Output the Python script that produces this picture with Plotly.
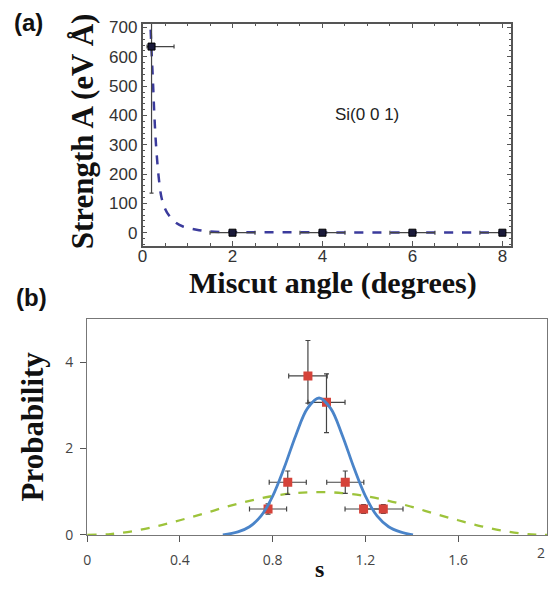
import plotly.graph_objects as go

# ---------- Panel (a) data ----------
a_x = [0.2, 2, 4, 6, 8]
a_y = [635, 0, 0, 0, 0]
a_xerr_plus = [0.5, 0.5, 0.5, 0.5, 0.5]
a_xerr_minus = [0.1, 0.5, 0.5, 0.5, 0.5]
a_yerr_plus = [500, 0, 0, 0, 0]
a_yerr_minus = [500, 0, 0, 0, 0]
fit_a_x = [0.18, 0.2, 0.23, 0.26, 0.30, 0.36, 0.42, 0.5, 0.61, 0.75, 0.90, 1.2, 1.5, 2, 3, 4, 6, 8]
fit_a_y = [693, 620, 521, 410, 299, 188, 121, 82, 54, 33, 21, 10, 4, 2, 1.5, 1, 0.7, 0.5]

# ---------- Panel (b) data ----------
b_x = [0.78, 0.865, 0.952, 1.032, 1.113, 1.192, 1.277]
b_y = [0.6, 1.22, 3.68, 3.07, 1.22, 0.6, 0.6]
b_xerr = [0.08, 0.08, 0.083, 0.08, 0.08, 0.08, 0.085]
b_yerr_plus = [0.12, 0.26, 0.82, 0.66, 0.26, 0.1, 0.1]
b_yerr_minus = [0.12, 0.28, 0.63, 0.70, 0.26, 0.1, 0.1]
blue_x = [0.585, 0.65, 0.7, 0.75, 0.8, 0.85, 0.9, 0.95, 1.0, 1.05, 1.1, 1.15, 1.2, 1.25, 1.3, 1.35, 1.405]
blue_y = [0.0, 0.07, 0.19, 0.44, 0.9, 1.56, 2.31, 2.93, 3.17, 2.93, 2.31, 1.56, 0.9, 0.44, 0.19, 0.07, 0.0]
green_x = [0, 0.1, 0.2, 0.3, 0.4, 0.5, 0.6, 0.7, 0.8, 0.9, 1.0, 1.1, 1.2, 1.3, 1.4, 1.5, 1.6, 1.7, 1.8, 1.9, 2.0]
green_y = [0, 0.02, 0.09, 0.2, 0.34, 0.49, 0.65, 0.79, 0.9, 0.97, 0.99, 0.97, 0.9, 0.79, 0.65, 0.49, 0.34, 0.2, 0.09, 0.02, 0]

a_xticks = [0, 2, 4, 6, 8]
a_yticks = [0, 100, 200, 300, 400, 500, 600, 700]
b_xticks = [0, 0.4, 0.8, 1.2, 1.6]
b_xticklabels = ["0", "0.4", "0.8", "1.2", "1.6"]
b_last_tick = "2"
b_yticks = [0, 2, 4]

# The page body keeps its default 8px margin; the figure fills the rest of the 556x590 window.
OFF = 8
W, H = 556 - 2 * OFF, 590 - 2 * OFF


def px(X):
    return (X - OFF) / W


def py(Y):
    return 1 - (Y - OFF) / H


fig = go.Figure()

# Panel (a)
fig.add_trace(go.Scatter(
    x=fit_a_x, y=fit_a_y, mode="lines", line=dict(color="#3b3b9c", width=2.5, dash="dash", shape="spline"),
    xaxis="x", yaxis="y", showlegend=False, hoverinfo="skip"))
fig.add_trace(go.Scatter(
    x=a_x, y=a_y, mode="markers",
    marker=dict(symbol="square", size=7, color="#1a1a3a", line=dict(color="#000", width=1)),
    error_x=dict(type="data", array=a_xerr_plus, arrayminus=a_xerr_minus, symmetric=False,
                 color="#444", thickness=1.2, width=2),
    error_y=dict(type="data", array=a_yerr_plus, arrayminus=a_yerr_minus, symmetric=False,
                 color="#444", thickness=1.2, width=2),
    xaxis="x", yaxis="y", showlegend=False))

# Panel (b)
fig.add_trace(go.Scatter(
    x=green_x, y=green_y, mode="lines", line=dict(color="#9dc33b", width=2.3, dash="dash", shape="spline"),
    xaxis="x2", yaxis="y2", showlegend=False, hoverinfo="skip"))
fig.add_trace(go.Scatter(
    x=b_x, y=b_y, mode="markers",
    marker=dict(symbol="square", size=9, color="#d5433a"),
    error_x=dict(type="data", array=b_xerr, color="#444", thickness=1.2, width=2.5),
    error_y=dict(type="data", array=b_yerr_plus, arrayminus=b_yerr_minus, symmetric=False,
                 color="#444", thickness=1.2, width=2.5),
    xaxis="x2", yaxis="y2", showlegend=False))
fig.add_trace(go.Scatter(
    x=blue_x, y=blue_y, mode="lines", line=dict(color="#4a84c9", width=2.8, shape="spline"),
    xaxis="x2", yaxis="y2", showlegend=False, hoverinfo="skip"))

tickfont_a = dict(family="Liberation Sans, Arial", size=17, color="#333")
tickfont_b = dict(family="Open Sans, Noto Sans", size=14, color="#444")

fig.update_layout(
    width=W, height=H, autosize=False, margin=dict(l=0, r=0, t=0, b=0, pad=0),
    paper_bgcolor="white", plot_bgcolor="white",
    xaxis=dict(domain=[px(139), px(512)], range=[0, 8.2], anchor="y",
               tickvals=a_xticks, ticks="inside", ticklen=5, tickcolor="#555",
               minor=dict(dtick=0.5, ticks="inside", ticklen=3, tickcolor="#555"),
               showline=True, linecolor="#555", linewidth=1.5, mirror="allticks",
               showgrid=False, zeroline=False, tickfont=tickfont_a, ticklabelstandoff=-6),
    yaxis=dict(domain=[py(247), py(19)], range=[-46, 713], anchor="x",
               tickvals=a_yticks, ticks="inside", ticklen=5, tickcolor="#555",
               minor=dict(dtick=20, ticks="inside", ticklen=3, tickcolor="#555"),
               showline=True, linecolor="#555", linewidth=1.5, mirror="allticks",
               showgrid=False, zeroline=False, tickfont=tickfont_a, ticklabelstandoff=0),
    xaxis2=dict(domain=[px(83), 1.0], range=[0, 2.0 * (548 - 83) / (552 - 83)], anchor="y2",
                tickvals=b_xticks, ticktext=b_xticklabels, ticks="outside", ticklen=6,
                tickcolor="#555", showline=True, linecolor="#777", linewidth=1.3, mirror=True,
                showgrid=False, zeroline=False, tickfont=tickfont_b, ticklabelstandoff=6),
    yaxis2=dict(domain=[py(543), py(322)], range=[0, 4.99], anchor="x2",
                tickvals=b_yticks, ticks="outside", ticklen=6, tickcolor="#555",
                showline=True, linecolor="#777", linewidth=1.3, mirror=True,
                showgrid=False, zeroline=False, tickfont=tickfont_b, ticklabelstandoff=4),
)

serif = "Liberation Serif, Times New Roman"
ann = [
    dict(text="<b>(a)</b>", x=px(24), y=py(18), font=dict(family="Liberation Sans, Arial", size=24, color="#111")),
    dict(text="<b>(b)</b>", x=px(27), y=py(300), font=dict(family="Liberation Sans, Arial", size=24, color="#111")),
    dict(text="<b>Strength A (eV Å)</b>", x=px(78), y=py(129), textangle=-90,
         font=dict(family=serif, size=31, color="#111")),
    dict(text="<b>Miscut angle (degrees)</b>", x=px(332), y=py(285),
         font=dict(family=serif, size=30, color="#111")),
    dict(text="Si(0 0 1)", x=px(366), y=py(112),
         font=dict(family="Liberation Sans, Arial", size=17, color="#222")),
    dict(text="<b>Probability</b>", x=px(28), y=py(432), textangle=-90,
         font=dict(family=serif, size=31, color="#111")),
    dict(text="<b>s</b>", x=px(318), y=py(578),
         font=dict(family=serif, size=24, color="#111")),
    dict(text=b_last_tick, x=1.0, y=py(561), xanchor="right",
         font=dict(family="Open Sans, Noto Sans", size=14, color="#444")),
]
for a in ann:
    a.update(xref="paper", yref="paper", showarrow=False, yanchor="middle")
    a.setdefault("xanchor", "center")
fig.update_layout(annotations=ann)

fig.write_html("out.html", config={"displayModeBar": False, "responsive": False})
